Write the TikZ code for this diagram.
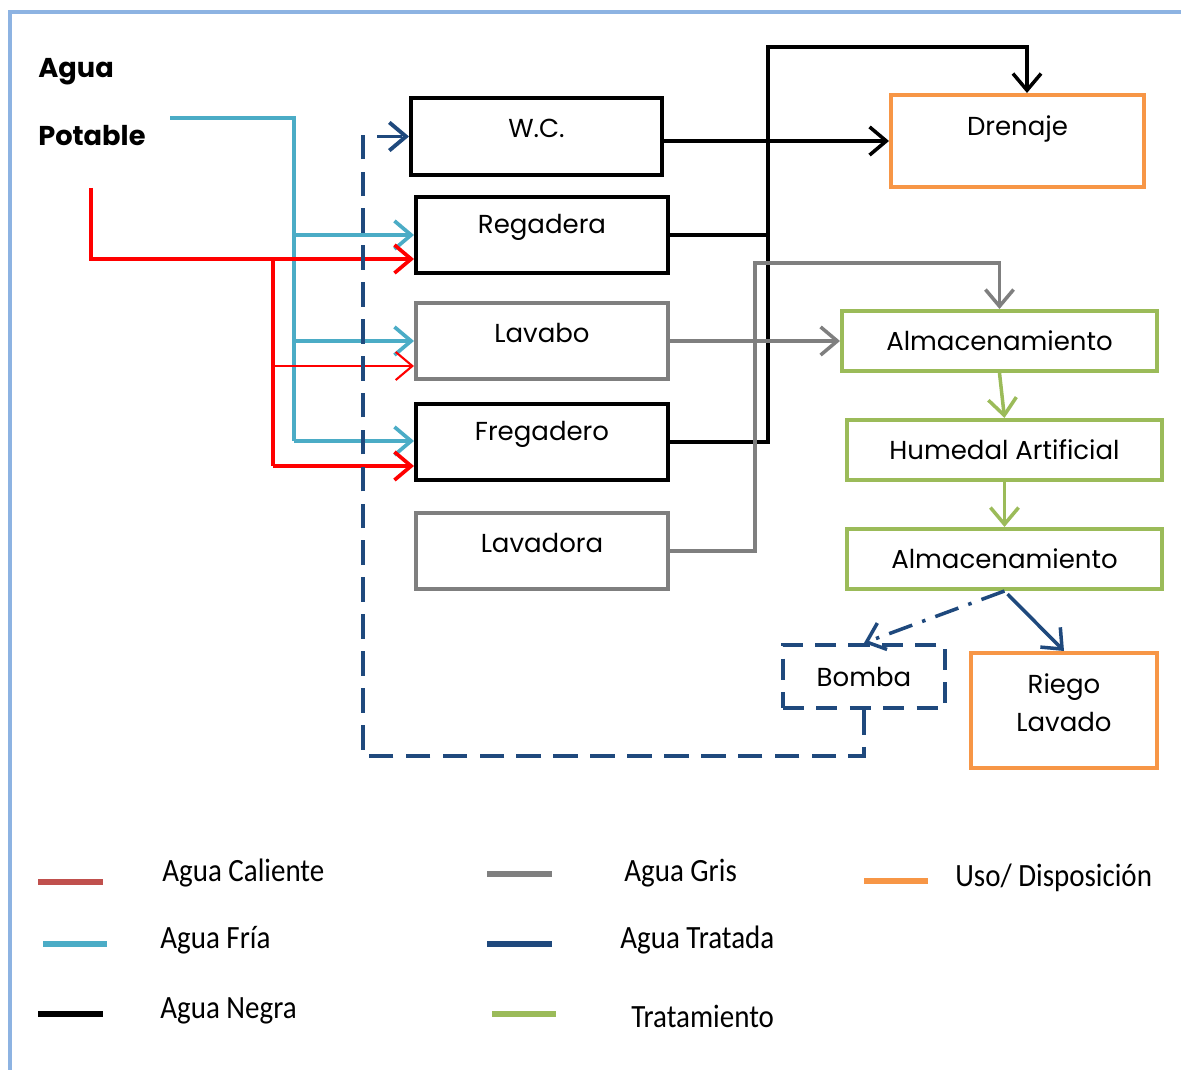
\documentclass[tikz,border=0pt]{standalone}
\usepackage{fontspec}
\setmainfont{Poppins}
\newfontfamily\legfont{Carlito}
\usetikzlibrary{arrows.meta,positioning}
\definecolor{fria}{HTML}{4BACC6}
\definecolor{caliente}{HTML}{FF0000}
\definecolor{calleg}{HTML}{C0504D}
\definecolor{gris}{HTML}{7F7F7F}
\definecolor{tratada}{HTML}{1F497D}
\definecolor{verde}{HTML}{9BBB59}
\definecolor{naranja}{HTML}{F79646}
\definecolor{marco}{HTML}{8DB3E2}

\begin{document}
\begin{tikzpicture}[x=0.02cm,y=-0.02cm,
    txt/.style={font=\fontsize{14.8}{22}\selectfont},
    box/.style={draw,line width=2.3pt,minimum width=5.04cm,minimum height=1.52cm},
    verdebox/.style={draw=verde,line width=2.3pt,minimum width=6.3cm,minimum height=1.2cm,txt},
    flecha/.style={-{Straight Barb[length=9.5pt,width=16pt]}},
    lfria/.style={draw=fria,line width=2.1pt},
    lcal/.style={draw=caliente,line width=2.1pt},
    lnegra/.style={draw=black,line width=2pt},
    lgris/.style={draw=gris,line width=2pt},
    lverde/.style={draw=verde,line width=2pt},
    ltrat/.style={draw=tratada,line width=2pt},
    titulo/.style={anchor=west,inner xsep=0pt,font=\bfseries\fontsize{15.5}{18}\selectfont},
    leg/.style={anchor=west,inner xsep=0pt,yscale=1.12,transform shape,
      font=\legfont\fontsize{16.5}{20}\selectfont},
    swatch/.style={line width=3.4pt}]
  \useasboundingbox (0,0) rectangle (1181,1070);

  % marco
  \draw[marco,line width=2.8pt] (10,1070) -- (10,12) -- (1181,12);

  \path
    (38,72) node[titulo] (agua) {Agua}
    (38,136) node[titulo] (potable) {Potable}
    (536.5,136.5) node[box,minimum width=5.02cm,minimum height=1.54cm,
      label={[name=wct,txt,yshift=4.5pt]center:W.C.}] (wc) {}
    (542,235) node[box,label={[name=regt,txt,yshift=4.5pt]center:Regadera}] (reg) {}
    (542,341) node[box,draw=gris,label={[name=lavt,txt,yshift=4.5pt]center:Lavabo}] (lavabo) {}
    (542,442) node[box,label={[name=fregt,txt,yshift=4.5pt]center:Fregadero}] (freg) {}
    (542,551) node[box,draw=gris,label={[name=lvdt,txt,yshift=4.5pt]center:Lavadora}] (lavadora) {}
    (1017.5,141) node[box,draw=naranja,minimum width=5.06cm,minimum height=1.84cm,
      label={[name=drent,txt,yshift=7pt]center:Drenaje}] (dren) {}
    (999.5,341) node[verdebox] (alm1) {Almacenamiento}
    (1004.5,450) node[verdebox] (hum) {Humedal Artificial}
    (1004.5,559) node[verdebox] (alm2) {Almacenamiento}
    (864,676.5) node[draw=tratada,line width=2.3pt,dash pattern=on 12pt off 7pt,
      minimum width=3.24cm,minimum height=1.26cm,txt] (bomba) {Bomba}
    (1064,710.5) node[box,draw=naranja,minimum width=3.72cm,minimum height=2.3cm,
      label={[name=riegot,txt,align=center,yshift=4.5pt]center:Riego\\Lavado}] (riego) {}
    ;

  % agua fria
  \coordinate (f0) at (170,118);
  \coordinate (f1) at (294,235);
  \coordinate (f2) at (294,341);
  \coordinate (f3) at (294,441);
  \draw[lfria] (f0) -| (f3);
  \draw[lfria,flecha] (f1) -- (reg.west |- f1);
  \draw[lfria,flecha] (f2) -- (lavabo.west |- f2);
  \draw[lfria,flecha] (f3) -- (freg.west |- f3);

  % agua caliente
  \coordinate (c0) at (91,188);
  \coordinate (c1) at (273,259);
  \coordinate (c2) at (273,366);
  \coordinate (c3) at (273,466);
  \draw[lcal,flecha] (c0) |- (reg.west |- c1);
  \draw[lcal] (c1) -- (c3);
  \draw[lcal,flecha] (c3) -- (freg.west |- c3);
  \draw[lcal,line width=1.2pt,flecha] (c2) -- (lavabo.west |- c2);

  % agua negra
  \coordinate (n0) at (768,47);
  \coordinate (n1) at (1027,47);
  \draw[lnegra,flecha] (wc.east |- dren.west) -- (dren.west);
  \draw[lnegra] (reg.east) -- (reg.east -| n0);
  \draw[lnegra,flecha] (freg.east) -| (n0) -| (dren.north -| n1);

  % agua gris
  \coordinate (g0) at (755,263);
  \draw[lgris,flecha] (lavabo.east) -- (alm1.west);
  \draw[lgris,flecha] (lavadora.east) -| (g0) -| (alm1.north);

  % tratamiento
  \draw[lverde,flecha] (alm1.south) -- (hum.north);
  \draw[lverde,flecha] (hum.south) -- (alm2.north);

  % agua tratada
  \coordinate (t0) at (363,756);
  \draw[ltrat,flecha,dash pattern=on 14pt off 6pt on 2pt off 6pt] (alm2.south) -- (bomba.north);
  \draw[ltrat,flecha] ([shift={(3,3)}]alm2.south) -- (riego.north);
  \draw[ltrat,line width=2.2pt,dash pattern=on 14pt off 7pt,flecha] (bomba.south) |- (t0) |- (wc.west);

  % leyenda
  \draw[swatch,calleg] (38,882) -- (103,882);
  \draw[swatch,fria] (43,944) -- (107,944);
  \draw[swatch,black] (38,1014) -- (103,1014);
  \draw[swatch,gris] (487,874) -- (552,874);
  \draw[swatch,tratada] (487,944) -- (552,944);
  \draw[swatch,verde] (492,1014) -- (556,1014);
  \draw[swatch,naranja] (864,881) -- (928,881);
  \path
    (162,873) node[leg] (lcal) {Agua Caliente}
    (160,940) node[leg] (lfria) {Agua Fría}
    (160,1011) node[leg] (lneg) {Agua Negra}
    (624,873) node[leg] (lgris) {Agua Gris}
    (620,940) node[leg] (ltrat) {Agua Tratada}
    (631,1016) node[leg] (ltto) {Tratamiento}
    (955,878) node[leg] (luso) {Uso/ Disposición}
    ;
\end{tikzpicture}
\end{document}
